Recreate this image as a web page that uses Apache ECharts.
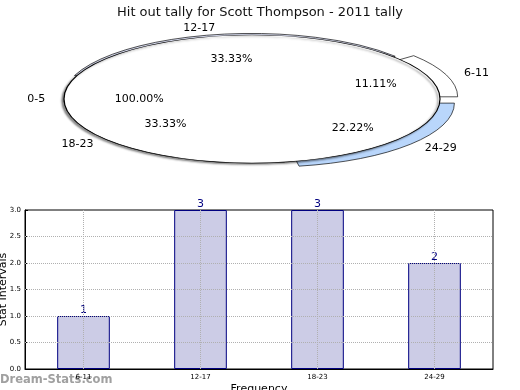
<!DOCTYPE html>
<html>
<head>
<meta charset="utf-8">
<script src="https://cdn.jsdelivr.net/npm/echarts@6/dist/echarts.min.js"></script>
<style>html,body{margin:0;padding:0;background:#fff}#c{width:520px;height:390px}</style>
</head>
<body>
<div id="c"></div>
<script>
// ---- data ----
const titleText = 'Hit out tally for Scott Thompson - 2011 tally';
const pieLabels = ['6-11', '12-17', '18-23', '24-29'];
const pieValues = [1, 3, 3, 2];
const overlayLabels = ['0-5'];
const overlayValues = [1];
const barCategories = ['6-11', '12-17', '18-23', '24-29'];
const barValues = [1, 3, 3, 2];
const yGridValues = [0.5, 1.0, 1.5, 2.0, 2.5];

// ---- style ----
const sliceColors = ['#ffffff', '#dfe3f7', '#ffffff', '#b9d6fb'];
const sliceExplode = [0.1, 0.025, 0.0, 0.1];
const FONT = 'DejaVu Sans';
const CX = 252, CY = 99, R = 188, SY = 64 / 188;

function pieGeom(values, i) {
  const total = values.reduce((a, b) => a + b, 0);
  let s = 0;
  for (let k = 0; k < i; k++) s += values[k];
  const start = s / total * Math.PI * 2;
  const end = (s + values[i]) / total * Math.PI * 2;
  return { start, end, mid: (start + end) / 2, pct: values[i] / total * 100 };
}

function makeSlice(values, colors, explode, shadow) {
  return function (params, api) {
    const i = params.dataIndex;
    const g = pieGeom(values, i);
    const e = explode[i];
    const ox = Math.cos(g.mid) * e * R;
    const oy = -Math.sin(g.mid) * e * R;
    const style = { fill: colors[i], stroke: '#000', lineWidth: 1, strokeNoScale: true };
    if (shadow) {
      style.shadowBlur = 2; style.shadowColor = 'rgba(0,0,0,0.45)';
      style.shadowOffsetX = -2; style.shadowOffsetY = 1.5; style.lineWidth = 1.2;
    }
    return {
      type: 'sector',
      shape: { cx: CX + ox, cy: CY + oy, r: R, r0: 0, startAngle: -g.end, endAngle: -g.start, clockwise: true },
      originX: CX, originY: CY, scaleY: SY,
      style: style
    };
  };
}

function makeLabels(values, labels, explode) {
  return function (params, api) {
    const i = params.dataIndex;
    const g = pieGeom(values, i);
    const e = explode[i];
    const ox = Math.cos(g.mid) * e * R;
    const oy = -Math.sin(g.mid) * e * R;
    const lx = Math.cos(g.mid), ly = -Math.sin(g.mid);
    const labX = CX + ox + lx * 1.1 * R;
    const labY = CY + (oy + ly * 1.1 * R) * SY;
    const pctX = CX + ox + lx * 0.6 * R;
    const pctY = CY + (oy + ly * 0.6 * R) * SY;
    return {
      type: 'group',
      children: [
        {
          type: 'text',
          style: { x: labX, y: labY, text: labels[i], font: '11px "' + FONT + '"', fill: '#000',
                   align: lx > 0 ? 'left' : 'right', verticalAlign: 'middle' }
        },
        {
          type: 'text',
          style: { x: pctX, y: pctY, text: g.pct.toFixed(2) + '%', font: '11px "' + FONT + '"', fill: '#000',
                   align: 'center', verticalAlign: 'middle' }
        }
      ]
    };
  };
}

const chart = echarts.init(document.getElementById('c'), null, { renderer: 'canvas' });
const dottedGrid = { type: 'dotted', color: '#b0b0b0', width: 1 };

chart.setOption({
  animation: false,
  backgroundColor: '#fff',
  title: {
    text: titleText, left: 'center', top: 1,
    textStyle: { fontFamily: FONT, fontSize: 13, fontWeight: 'normal', color: '#111' }
  },
  graphic: [{
    type: 'text', left: 0, top: 374,
    style: { text: 'Dream-Stats.com', font: 'bold 11.5px "' + FONT + '"', fill: '#a0a0a0' }
  }],
  grid: { left: 25, right: 27, top: 210, bottom: 21, show: true, borderColor: '#000', borderWidth: 1,
          containLabel: false, outerBoundsMode: 'none' },
  xAxis: {
    type: 'category', data: barCategories, boundaryGap: true,
    name: 'Frequency', nameLocation: 'middle', nameGap: 15, nameMoveOverlap: false,
    nameTextStyle: { fontFamily: FONT, fontSize: 11, color: '#000', verticalAlign: 'top' },
    axisLine: { lineStyle: { color: '#000' } },
    axisTick: { alignWithLabel: true, inside: true, length: 3, lineStyle: { color: '#000' } },
    axisLabel: { fontFamily: FONT, fontSize: 7, color: '#000', margin: 5 },
    splitLine: { show: false }
  },
  yAxis: {
    type: 'value', min: 0, max: 3, interval: 0.5,
    name: 'Stat Intervals', nameLocation: 'middle', nameGap: 16, nameMoveOverlap: false,
    nameTextStyle: { fontFamily: FONT, fontSize: 11, color: '#000' },
    axisLine: { show: true, lineStyle: { color: '#000' } },
    axisTick: { show: true, inside: true, length: 3, lineStyle: { color: '#000' } },
    axisLabel: { fontFamily: FONT, fontSize: 7, color: '#000', margin: 4, formatter: v => v.toFixed(1) },
    splitLine: { show: false }
  },
  series: [
    {
      type: 'bar', data: barValues, barWidth: '45%',
      itemStyle: { color: '#ccccE6', borderColor: '#000080', borderWidth: 1 },
      label: { show: true, position: 'top', distance: 0, color: '#000080', fontFamily: FONT, fontSize: 11 },
      markLine: {
        silent: true, symbol: ['none', 'none'], label: { show: false },
        lineStyle: dottedGrid,
        data: barCategories.map(c => ({ xAxis: c })).concat(yGridValues.map(v => ({ yAxis: v })))
      },
      z: 2
    },
    {
      type: 'custom', coordinateSystem: 'none', z: 3,
      data: pieValues,
      renderItem: makeSlice(pieValues, sliceColors, sliceExplode, false)
    },
    {
      type: 'custom', coordinateSystem: 'none', z: 4,
      data: overlayValues,
      renderItem: makeSlice(overlayValues, ['#ffffff'], [0], true)
    },
    {
      type: 'custom', coordinateSystem: 'none', z: 5,
      data: pieValues,
      renderItem: makeLabels(pieValues, pieLabels, sliceExplode)
    },
    {
      type: 'custom', coordinateSystem: 'none', z: 5,
      data: overlayValues,
      renderItem: makeLabels(overlayValues, overlayLabels, [0])
    }
  ]
});
</script>
</body>
</html>
